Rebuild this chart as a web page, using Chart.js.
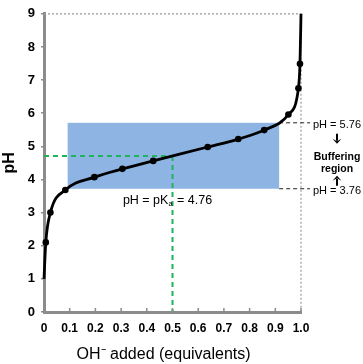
<!DOCTYPE html>
<html>
<head>
<meta charset="utf-8">
<script src="https://cdn.jsdelivr.net/npm/chart.js@4.4.1/dist/chart.umd.min.js"></script>
<style>
  html, body { margin: 0; padding: 0; background: #fff; }
  #wrap { position: relative; width: 363px; height: 364px; }
</style>
</head>
<body>
<div id="wrap"><canvas id="grafica"></canvas></div>
<script>
// Titration curve of a weak acid (acetic acid, pKa 4.76)
var equivalentes = [0, 0.007, 0.025, 0.083, 0.196, 0.305, 0.425, 0.637, 0.756, 0.857, 0.951, 0.990, 0.996, 1.0];
var valoresPH   = [1.0, 2.1, 3.0, 3.68, 4.07, 4.32, 4.56, 4.98, 5.22, 5.49, 5.96, 6.75, 7.49, 9.0];
var conPunto    = [false, true, true, true, true, true, true, true, true, true, true, true, true, false];

var etiquetasX = ['0', '0.1', '0.2', '0.3', '0.4', '0.5', '0.6', '0.7', '0.8', '0.9', '1.0'];
var etiquetasY = ['0', '1', '2', '3', '4', '5', '6', '7', '8', '9'];

// posiciones (las marcas quedan un poco por debajo de los valores rotulados)
var lineaPKa = 4.71;
var mitad = 0.5;
var zonaX = [0.092, 0.915];
var zonaPH = [3.72, 5.71];
var textoPKa = '4.76';
var textoAlto = 'pH = 5.76';
var textoBajo = 'pH = 3.76';

var FUENTE = '"Liberation Sans", Arial, sans-serif';

// ---------------- Anotaciones ----------------
var anotaciones = {
  id: 'anotaciones',
  beforeDatasetsDraw: function (chart) {
    var c = chart.ctx, x = chart.scales.x, y = chart.scales.y, a = chart.chartArea;
    c.save();
    // caja punteada arriba y derecha
    c.strokeStyle = '#9a9a9a'; c.lineWidth = 1.2; c.setLineDash([2, 2]);
    c.beginPath();
    c.moveTo(a.left, y.getPixelForValue(9)); c.lineTo(a.right, y.getPixelForValue(9));
    c.moveTo(x.getPixelForValue(1), y.getPixelForValue(9)); c.lineTo(x.getPixelForValue(1), y.getPixelForValue(0));
    c.stroke();
    // región amortiguadora
    c.setLineDash([]);
    c.fillStyle = '#8db4e2';
    var x0 = x.getPixelForValue(zonaX[0]), x1 = x.getPixelForValue(zonaX[1]);
    var y0 = y.getPixelForValue(zonaPH[1]), y1 = y.getPixelForValue(zonaPH[0]);
    c.fillRect(x0, y0, x1 - x0, y1 - y0);
    // líneas verdes del pKa
    c.strokeStyle = '#1fb35a'; c.lineWidth = 2; c.setLineDash([5, 4]);
    var ym = y.getPixelForValue(lineaPKa), xm = x.getPixelForValue(mitad);
    c.beginPath();
    c.moveTo(a.left, ym); c.lineTo(xm, ym);
    c.moveTo(xm, ym); c.lineTo(xm, a.bottom);
    c.stroke();
    // líneas negras a las etiquetas
    c.strokeStyle = '#222'; c.lineWidth = 1; c.setLineDash([4, 3]);
    c.beginPath();
    c.moveTo(x1, y0); c.lineTo(a.right + 9, y0);
    c.moveTo(x1, y1); c.lineTo(a.right + 9, y1);
    c.stroke();
    c.restore();
  },
  afterDraw: function (chart) {
    var c = chart.ctx, x = chart.scales.x, y = chart.scales.y, a = chart.chartArea;
    c.save();
    // marcas del eje x hacia adentro
    c.strokeStyle = '#8c8c8c'; c.lineWidth = 1.5;
    c.beginPath();
    x.ticks.forEach(function (t) {
      var px = x.getPixelForValue(t.value);
      c.moveTo(px, a.bottom); c.lineTo(px, a.bottom - 4);
    });
    c.stroke();

    c.fillStyle = '#000';
    c.textBaseline = 'middle';
    // pH = pKa = 4.76
    var ty = y.getPixelForValue(zonaPH[0]) + 12;
    var tx = x.getPixelForValue(0.307);
    c.textAlign = 'left';
    c.font = '12.5px ' + FUENTE;
    var p1 = 'pH = pK';
    c.fillText(p1, tx, ty);
    tx += c.measureText(p1).width;
    c.font = '7.5px ' + FUENTE;
    c.fillText('a', tx, ty + 3.5);
    tx += c.measureText('a').width + 1;
    c.font = '12.5px ' + FUENTE;
    c.fillText(' = ' + textoPKa, tx, ty);

    // bloque derecho
    var cx = a.right + 36;
    var ya = y.getPixelForValue(zonaPH[1]), yb = y.getPixelForValue(zonaPH[0]);
    c.textAlign = 'center';
    c.font = '11px ' + FUENTE;
    c.fillText(textoAlto, cx, ya + 2);
    c.fillText(textoBajo, cx, yb + 2);
    c.font = 'bold 10.5px ' + FUENTE;
    c.fillText('Buffering', cx, ya + 34);
    c.fillText('region', cx, ya + 46);
    // flechas
    c.strokeStyle = '#000'; c.lineWidth = 2;
    function flecha(y0, y1) {
      var d = y1 > y0 ? 1 : -1;
      c.beginPath();
      c.moveTo(cx, y0); c.lineTo(cx, y1 - 3 * d);
      c.stroke();
      c.beginPath();
      c.moveTo(cx - 4.5, y1 - 5 * d); c.lineTo(cx, y1); c.lineTo(cx + 4.5, y1 - 5 * d);
      c.lineTo(cx, y1 - 2.5 * d); c.closePath();
      c.fill();
    }
    flecha(ya + 11, ya + 21);
    flecha(yb - 3, yb - 13);
    c.restore();
  }
};

var puntos = equivalentes.map(function (v, i) { return { x: v, y: valoresPH[i] }; });

new Chart(document.getElementById('grafica'), {
  type: 'line',
  data: {
    datasets: [{
      data: puntos,
      borderColor: '#000',
      backgroundColor: '#000',
      borderWidth: 2.8,
      cubicInterpolationMode: 'monotone',
      pointRadius: conPunto.map(function (p) { return p ? 3.3 : 0; }),
      pointBackgroundColor: '#000',
      pointBorderWidth: 0,
      clip: 4
    }]
  },
  options: {
    responsive: true, maintainAspectRatio: false, animation: false,
    layout: { padding: { top: 4, right: 62, left: 0, bottom: 0 } },
    plugins: { legend: { display: false }, tooltip: { enabled: false } },
    scales: {
      x: {
        type: 'linear', min: 0, max: 1,
        afterFit: function (s) { s.height = 52; },
        afterBuildTicks: function (s) { s.ticks = etiquetasX.map(function (t) { return { value: parseFloat(t) }; }); },
        grid: { display: true, drawOnChartArea: false, drawTicks: false },
        border: { display: true, color: '#8c8c8c', width: 3 },
        ticks: { padding: 9, color: '#000', maxRotation: 0, autoSkip: false, font: { family: FUENTE, size: 12, weight: 'bold' },
          callback: function (v, i) { return etiquetasX[i]; } },
        // espacios al final: el título original queda algo a la izquierda del centro
        title: { display: true, text: 'OH\u207B added (equivalents)    ', color: '#000', padding: 0, font: { family: FUENTE, size: 16 } }
      },
      y: {
        type: 'linear', min: 0, max: 9,
        afterFit: function (s) { s.width = 44; },
        afterBuildTicks: function (s) { s.ticks = etiquetasY.map(function (t) { return { value: parseFloat(t) }; }); },
        grid: { display: true, drawOnChartArea: false, drawTicks: true, tickLength: 3, color: '#8c8c8c', lineWidth: 1.5 },
        border: { display: true, color: '#8c8c8c', width: 3 },
        ticks: { padding: 6, color: '#000', autoSkip: false, font: { family: FUENTE, size: 13, weight: 'bold' },
          callback: function (v, i) { return etiquetasY[i]; } },
        title: { display: true, text: 'pH', color: '#000', padding: 0, font: { family: FUENTE, size: 16, weight: 'bold' } }
      }
    }
  },
  plugins: [anotaciones]
});
</script>
</body>
</html>
